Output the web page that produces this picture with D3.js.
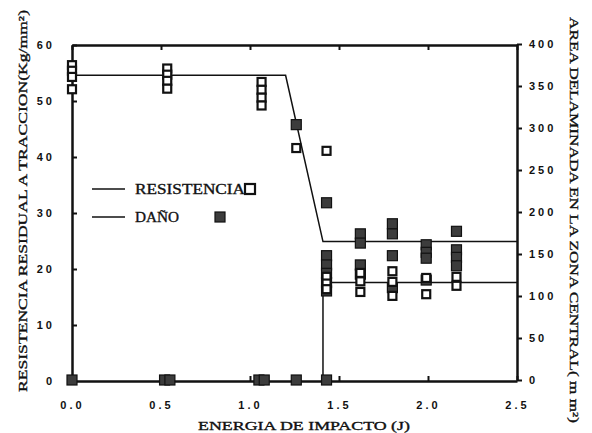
<!DOCTYPE html>
<html lang="es">
<head>
  <meta charset="UTF-8" />
  <title>Resistencia residual y daño</title>
  <script src="https://d3js.org/d3.v7.min.js"></script>
  <style>
    body { margin: 0; background: #fff; }
    .tick text { font-family: "Liberation Sans", Arial, sans-serif; font-weight: bold; font-size: 11px; letter-spacing: 3px; fill: #111; }
    .title { font-family: "Liberation Serif", "Times New Roman", serif; font-size: 13px; fill: #111; stroke: #111; stroke-width: 0.35px; }
  </style>
</head>
<body>
<div id="chart"></div>
<script>
// puntos de resistencia (cuadros abiertos, eje izquierdo)
const resX = [0, 0, 0, 0, 0.535, 0.535, 0.535, 0.535, 1.065, 1.065, 1.065, 1.065, 1.26, 1.43, 1.43, 1.43, 1.43, 1.62, 1.62, 1.62, 1.80, 1.80, 1.80, 1.99, 1.99, 2.16, 2.16];
const resY = [56.4, 55.4, 54.3, 52.1, 55.8, 54.7, 53.6, 52.2, 53.4, 52.0, 50.6, 49.2, 41.6, 41.1, 18.6, 17.4, 16.4, 19.3, 17.8, 15.9, 19.6, 17.7, 15.2, 18.4, 15.5, 18.6, 17.0];
// puntos de daño (cuadros rellenos, eje derecho)
const danoX = [0, 0.52, 0.55, 1.05, 1.08, 1.26, 1.43, 1.26, 1.43, 1.43, 1.43, 1.43, 1.43, 1.43, 1.62, 1.62, 1.62, 1.62, 1.80, 1.80, 1.80, 1.80, 1.99, 1.99, 1.99, 1.99, 2.16, 2.16, 2.16, 2.16];
const danoY = [0, 0, 0, 0, 0, 0, 0, 304, 211, 148, 137, 127, 116, 106, 174, 163, 137, 126, 186, 174, 148, 110, 161, 152, 145, 119, 177, 155, 146, 136];
// curvas de ajuste
const resLineX = [0, 1.2, 1.41, 2.5];
const resLineY = [54.6, 54.6, 24.9, 24.9];
const danoLineX = [1.41, 1.41, 2.5];
const danoLineY = [0, 116, 116];
// ticks
const xTicks = [0, 0.5, 1.0, 1.5, 2.0, 2.5];
const yLeftTicks = [0, 10, 20, 30, 40, 50, 60];
const yRightTicks = [0, 50, 100, 150, 200, 250, 300, 350, 400];

const W = 592, H = 433;
const svg = d3.select("#chart").append("svg").attr("width", W).attr("height", H);

const x = d3.scaleLinear().domain([0, 2.5]).range([72, 517]);
const yL = d3.scaleLinear().domain([0, 60]).range([381, 45]);
const yR = d3.scaleLinear().domain([0, 400]).range([380, 44]);

// ejes
svg.append("g").attr("transform", `translate(0,${yL(0)})`)
  .call(d3.axisBottom(x).tickValues(xTicks).tickFormat(d3.format(".1f")).tickSize(-5).tickPadding(20).tickSizeOuter(0));
svg.append("g").attr("transform", `translate(0,${yL(60)})`)
  .call(d3.axisTop(x).tickValues(xTicks).tickFormat("").tickSize(-5).tickSizeOuter(0));
svg.append("g").attr("transform", `translate(${x(0)},0)`)
  .call(d3.axisLeft(yL).tickValues(yLeftTicks).tickSize(-5).tickPadding(17).tickSizeOuter(0));
svg.append("g").attr("transform", `translate(${x(2.5)},0)`)
  .call(d3.axisRight(yR).tickValues(yRightTicks).tickSize(5).tickPadding(7).tickSizeOuter(0));
svg.selectAll(".domain").attr("stroke", "#111").attr("stroke-width", 2.5);
svg.selectAll(".tick line").attr("stroke", "#111").attr("stroke-width", 2);
svg.selectAll(".tick text").attr("fill", "#111");

// lineas
const lineL = d3.line().x(d => x(d[0])).y(d => yL(d[1]));
const lineR = d3.line().x(d => x(d[0])).y(d => yR(d[1]));
svg.append("path").attr("d", lineL(d3.zip(resLineX, resLineY)))
  .attr("fill", "none").attr("stroke", "#111").attr("stroke-width", 1.5);
svg.append("path").attr("d", lineR(d3.zip(danoLineX, danoLineY)))
  .attr("fill", "none").attr("stroke", "#111").attr("stroke-width", 1.5);

const s = 10;
// daño: cuadros rellenos
svg.selectAll(".dano").data(d3.zip(danoX, danoY)).enter().append("rect")
  .attr("x", d => x(d[0]) - s / 2).attr("y", d => yR(d[1]) - s / 2)
  .attr("width", s).attr("height", s)
  .attr("fill", "#3c3c3c").attr("stroke", "#111").attr("stroke-width", 1.2);
// resistencia: cuadros abiertos
svg.selectAll(".res").data(d3.zip(resX, resY)).enter().append("rect")
  .attr("x", d => x(d[0]) - s / 2 + 1).attr("y", d => yL(d[1]) - s / 2 + 1)
  .attr("width", s - 2).attr("height", s - 2)
  .attr("fill", "#fff").attr("stroke", "#111").attr("stroke-width", 2.2);

// leyenda
const legend = [
  { name: "RESISTENCIA", y: 189, open: true, mx: 250, len: 110 },
  { name: "DAÑO", y: 217, open: false, mx: 220, len: 44 }
];
legend.forEach(l => {
  svg.append("line").attr("x1", 92).attr("x2", 125).attr("y1", l.y).attr("y2", l.y)
    .attr("stroke", "#111").attr("stroke-width", 1.5);
  svg.append("text").attr("class", "title").attr("x", 135).attr("y", l.y + 5)
    .attr("textLength", l.len).attr("lengthAdjust", "spacingAndGlyphs")
    .style("font-size", "14px").text(l.name);
  svg.append("rect").attr("x", l.mx - 5).attr("y", l.y - 5).attr("width", 10).attr("height", 10)
    .attr("fill", l.open ? "#fff" : "#3c3c3c").attr("stroke", "#111").attr("stroke-width", l.open ? 2.2 : 1.2);
});

// titulos
svg.append("text").attr("class", "title")
  .attr("transform", "translate(27,201) rotate(-90)")
  .attr("text-anchor", "middle").attr("textLength", 382).attr("lengthAdjust", "spacingAndGlyphs")
  .text("RESISTENCIA RESIDUAL A TRACCION(Kg/mm²)");
svg.append("text").attr("class", "title")
  .attr("transform", "translate(570,220) rotate(90)")
  .attr("text-anchor", "middle").attr("textLength", 406).attr("lengthAdjust", "spacingAndGlyphs")
  .text("AREA DELAMINADA EN LA ZONA CENTRAL( m m²)");
svg.append("text").attr("class", "title")
  .attr("x", 304).attr("y", 430)
  .attr("text-anchor", "middle").attr("textLength", 212).attr("lengthAdjust", "spacingAndGlyphs")
  .text("ENERGIA DE IMPACTO (J)");
</script>
</body>
</html>
